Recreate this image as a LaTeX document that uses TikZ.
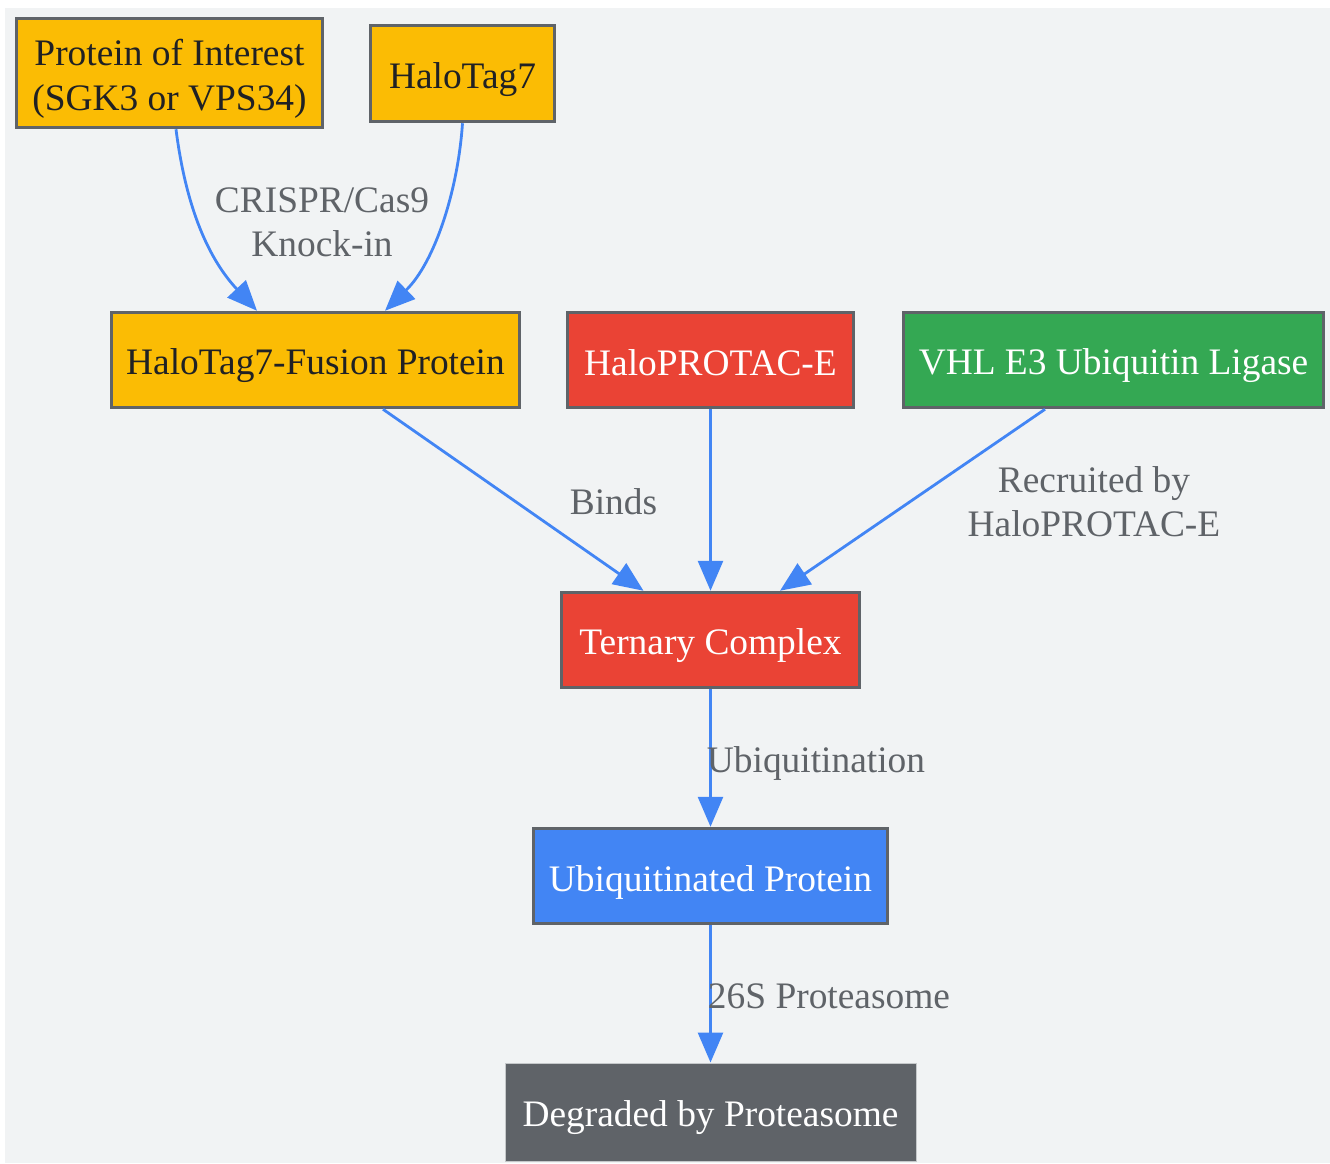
\documentclass[tikz,border=0pt]{standalone}
\usepackage{fontspec}
\setmainfont{Liberation Serif}
\usetikzlibrary{arrows.meta}
\definecolor{bgc}{HTML}{F1F3F4}
\definecolor{amberc}{HTML}{FBBC04}
\definecolor{redc}{HTML}{EA4335}
\definecolor{greenc}{HTML}{34A853}
\definecolor{bluec}{HTML}{4285F4}
\definecolor{greyc}{HTML}{5F6368}
\definecolor{inkc}{HTML}{202124}
\newcommand{\lst}{\rule[-8pt]{0pt}{36pt}}
\newcommand{\bst}{\rule[-8pt]{0pt}{46pt}}
\tikzset{
  box/.style={draw=greyc,line width=3pt,rectangle,inner sep=0pt,align=center,font=\fontsize{37.4}{44}\selectfont},
  amberbox/.style={box,fill=amberc,text=inkc},
  redbox/.style={box,fill=redc,text=white},
  greenbox/.style={box,fill=greenc,text=white},
  bluebox/.style={box,fill=bluec,text=white},
  greybox/.style={box,fill=greyc,draw=bgc!70!greyc,line width=1pt,text=white},
  link/.style={draw=bluec,line width=2.8pt,-{Triangle[length=30pt,width=25pt]}},
  lab/.style={text=greyc,inner sep=0pt,align=center,font=\fontsize{37.4}{44}\selectfont}
}
\begin{document}
\begin{tikzpicture}[x=1pt,y=-1pt]
\useasboundingbox (0,0) rectangle (1330,1164);
\fill[bgc] (5,8.5) rectangle (1330,1163);
\node[amberbox,minimum width=306.5pt,minimum height=109.5pt] (A) at (169.5,73) {\bst Protein of Interest\\\lst (SGK3 or VPS34)};
\node[amberbox,minimum width=184.5pt,minimum height=96.5pt] (B) at (462.5,73.5) {\bst HaloTag7};
\node[amberbox,minimum width=408.5pt,minimum height=95.5pt] (F) at (315.5,360) {\bst HaloTag7-Fusion Protein};
\node[redbox,minimum width=286.5pt,minimum height=95.5pt] (P) at (710.5,360) {\bst HaloPROTAC-E};
\node[greenbox,minimum width=420.5pt,minimum height=95.5pt] (V) at (1113.5,360) {\bst VHL E3 Ubiquitin Ligase};
\node[redbox,minimum width=298.5pt,minimum height=95.5pt] (T) at (710.5,640) {\bst Ternary Complex};
\node[bluebox,minimum width=354.5pt,minimum height=95.5pt] (U) at (710.5,876) {\bst Ubiquitinated Protein};
\node[greybox,minimum width=411pt,minimum height=98pt] (D) at (710.5,1112) {\bst Degraded by Proteasome};
\draw[link] ([xshift=6.5pt]A.south) .. controls (185,200) and (205,255) .. ([xshift=-58.5pt]F.north);
\draw[link] (B.south) .. controls (458,190) and (435,262) .. ([xshift=69.5pt]F.north);
\draw[link] ([xshift=67.5pt]F.south) -- ([xshift=-67pt]T.north);
\draw[link] (P.south) -- (T.north);
\draw[link] ([xshift=-68.5pt]V.south) -- ([xshift=69.5pt]T.north);
\draw[link] (T.south) -- (U.north);
\draw[link] (U.south) -- (D.north);
\node[lab] (l1) at (322,224) {\lst CRISPR/Cas9\\\lst Knock-in};
\node[lab] (l2) at (613.5,504) {\lst Binds};
\node[lab] (l3) at (1094,504.5) {\lst Recruited by\\\lst HaloPROTAC-E};
\node[lab] (l4) at (816,762) {\lst Ubiquitination};
\node[lab] (l5) at (829,998) {\lst 26S Proteasome};
\end{tikzpicture}
\end{document}
